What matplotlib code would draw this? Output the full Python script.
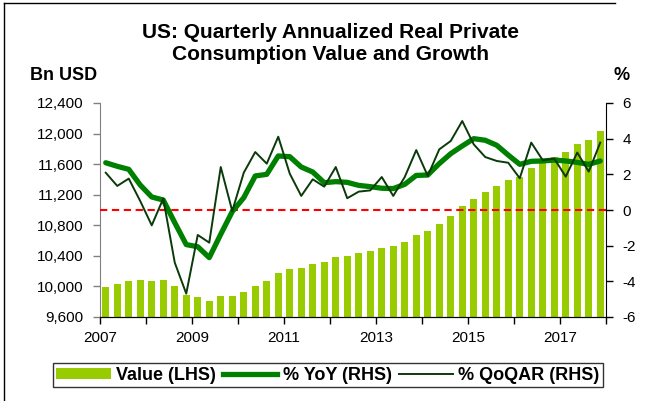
import matplotlib
matplotlib.use('Agg')
import matplotlib.pyplot as plt
import numpy as np
from matplotlib.patches import Patch
from matplotlib.lines import Line2D
import matplotlib.transforms as mtransforms

plt.rcParams['font.family'] = ['Liberation Sans', 'DejaVu Sans']
plt.rcParams['axes.unicode_minus'] = False

# ---- data (quarterly, 2007Q1 .. 2017Q4) ----
year_labels = ['2007', '2009', '2011', '2013', '2015', '2017']
value_bn_usd = [9996, 10032, 10075, 10088, 10067, 10084, 10010, 9892,
                9862, 9814, 9875, 9875, 9931, 10006, 10071, 10176,
                10224, 10245, 10293, 10324, 10389, 10402, 10433, 10460,
                10507, 10533, 10581, 10669, 10721, 10813, 10917, 11052,
                11148, 11236, 11310, 11389, 11432, 11546, 11632, 11698,
                11763, 11859, 11920, 12030]
yoy_pct = [2.65, 2.45, 2.28, 1.40, 0.73, 0.56, -0.71, -1.94,
           -2.06, -2.67, -1.36, -0.09, 0.69, 1.91, 2.00, 3.03,
           2.99, 2.41, 2.13, 1.53, 1.59, 1.55, 1.38, 1.31,
           1.22, 1.20, 1.44, 1.94, 1.96, 2.60, 3.16, 3.59,
           4.00, 3.91, 3.63, 3.08, 2.56, 2.73, 2.75, 2.80,
           2.75, 2.67, 2.56, 2.75]
qoqar_pct = [2.09, 1.35, 1.76, 0.50, -0.86, 0.64, -2.95, -4.69,
             -1.40, -1.83, 2.41, -0.06, 2.09, 3.25, 2.60, 4.11,
             2.04, 0.79, 1.72, 1.31, 2.41, 0.66, 1.03, 1.10,
             1.85, 0.79, 1.85, 3.36, 1.91, 3.40, 3.87, 4.99,
             3.68, 2.97, 2.75, 2.65, 1.78, 3.78, 2.79, 2.88,
             1.87, 3.22, 2.15, 3.78]

W, H = 649, 401
fig = plt.figure(figsize=(W / 100, H / 100), dpi=100)

L, R, T, B = 100, 606, 103, 317
ax = fig.add_axes([L / W, 1 - B / H, (R - L) / W, (B - T) / H])
n = len(value_bn_usd)
x = np.arange(n) + 0.5

ax.bar(x, value_bn_usd, width=0.6, color='#99CC00', zorder=1)
ax.set_xlim(0, n)
ax.set_ylim(9600, 12400)
ax.set_yticks(np.arange(9600, 12401, 400))
ax.yaxis.set_major_formatter(matplotlib.ticker.FuncFormatter(lambda v, p: f'{int(v):,}'))

ax.set_xticks(np.arange(0, n + 1, 4))
ax.set_xticklabels([year_labels[i // 2] if i % 2 == 0 else '' for i in range(12)])
offset = mtransforms.ScaledTranslation(4 / 100, 0, fig.dpi_scale_trans)
for lab in ax.get_xticklabels():
    lab.set_transform(lab.get_transform() + offset)

ax2 = ax.twinx()
ax2.set_ylim(-6, 6)
ax2.set_yticks(np.arange(-6, 7, 2))
ax2.axhline(0, color='#FF0000', lw=1.5, ls=(0, (3.5, 2.2)), zorder=2)
ax2.plot(x, yoy_pct, color='#008000', lw=3.8, solid_joinstyle='round',
         solid_capstyle='round', zorder=3)
ax2.plot(x, qoqar_pct, color='#0A3A0A', lw=1.4, zorder=4)

for a in (ax, ax2):
    a.spines['top'].set_visible(False)
    a.tick_params(direction='out', length=5, width=1, labelsize=11, pad=7,
                  colors='black')
ax.spines['left'].set_color('#808080')
ax.spines['right'].set_visible(False)
ax2.spines['left'].set_visible(False)
ax2.spines['right'].set_color('black')
ax.tick_params(axis='y', color='#808080')
ax.tick_params(axis='x', pad=5)

fig.text(330 / W, 1 - 43 / H,
         'US: Quarterly Annualized Real Private\nConsumption Value and Growth',
         ha='center', va='center', fontsize=15, fontweight='bold',
         linespacing=1.2)
fig.text(64 / W, 1 - 76 / H, 'Bn USD', ha='center', va='center',
         fontsize=13, fontweight='bold')
fig.text(622 / W, 1 - 76 / H, '%', ha='center', va='center',
         fontsize=13, fontweight='bold')

handles = [Patch(facecolor='#99CC00', edgecolor='none'),
           Line2D([], [], color='#008000', lw=3.8),
           Line2D([], [], color='#0A3A0A', lw=1.4)]
labels = ['Value (LHS)', '% YoY (RHS)', '% QoQAR (RHS)']
leg = fig.legend(handles, labels, loc='center', ncol=3,
                 bbox_to_anchor=(328 / W, 1 - 375 / H),
                 prop={'weight': 'bold', 'size': 13},
                 handlelength=3.0, handleheight=0.55, handletextpad=0.3,
                 columnspacing=0.4, borderpad=0.2, frameon=True,
                 fancybox=False, edgecolor='black', borderaxespad=0)
leg.get_frame().set_linewidth(1.0)

# outer frame (left and top)
fig.add_artist(Line2D([4 / W, 4 / W], [0, 1 - 3 / H], color='black', lw=1,
                      transform=fig.transFigure))
fig.add_artist(Line2D([4 / W, 615 / W], [1 - 3 / H, 1 - 3 / H], color='black',
                      lw=1, transform=fig.transFigure))

fig.savefig('out.png', dpi=100)
